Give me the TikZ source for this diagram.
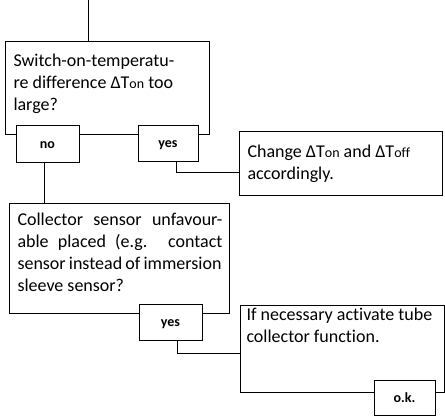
\documentclass[tikz,border=0pt]{standalone}
\usepackage{fontspec}
\setmainfont[Ligatures=NoCommon]{Carlito}
\newcommand{\smtxt}[1]{{\fontsize{14}{14}\selectfont #1}}
\begin{document}
\begin{tikzpicture}[x=1pt,y=-1pt, line width=1pt,
  box/.style={draw, anchor=north west, inner sep=0pt},
  lbl/.style={draw, fill=white, inner sep=0pt, text height=9pt, text depth=0pt, font=\fontsize{14}{14}\selectfont\bfseries},
  txt/.style={anchor=base west, inner sep=0pt, align=left, font=\fontsize{18}{22}\selectfont}]
\useasboundingbox (0,0) rectangle (445,418);
% boxes
\node[box, minimum width=204pt, minimum height=93pt] (box1) at (5,41) {};
\node[box, minimum width=203pt, minimum height=64pt] (chg) at (239,131) {};
\node[box, minimum width=220pt, minimum height=110pt] (box2) at (9,203) {};
\node[box, minimum width=204pt, minimum height=87pt] (box3) at (240,305) {};
% labels
\node[lbl, minimum width=63pt, minimum height=37pt] (no1) at (47.5,143.5) {no};
\node[lbl, minimum width=60pt, minimum height=36pt] (yes1) at (168,143) {yes};
\node[lbl, minimum width=63pt, minimum height=36pt] (yes2) at (170.5,322) {yes};
\node[lbl, minimum width=61pt, minimum height=35pt] (ok) at (404.5,397.5) {o.k.};
% texts (anchored at the baseline of the last line)
\node[txt] (t1) at (13,110) {Switch-on-temperatu-\\re difference ΔT\smtxt{on} too\\large?};
\node[txt] (t2) at (247,179) {Change ΔT\smtxt{on} and ΔT\smtxt{off}\\accordingly.};
\node[txt] (t3) at (17,291) {\makebox[205pt][s]{Collector sensor unfavour-}\\\makebox[205pt][s]{able placed (e.g. contact}\\\makebox[204pt][s]{sensor instead of immersion}\\sleeve sensor?};
\node[txt] (t4) at (246,342) {If necessary activate tube\\collector function.};
% connectors
\coordinate (in) at (88,0);
\draw (in) -- (in |- box1.north);
\draw ([xshift=-3.5pt]no1.south) -- ([xshift=-3.5pt]no1.south |- box2.north);
\draw ([xshift=8pt]yes1.south) |- ([yshift=-9pt]chg.west);
\draw ([xshift=6.5pt]yes2.south) |- ([yshift=-4pt]box3.west);
\end{tikzpicture}
\end{document}
